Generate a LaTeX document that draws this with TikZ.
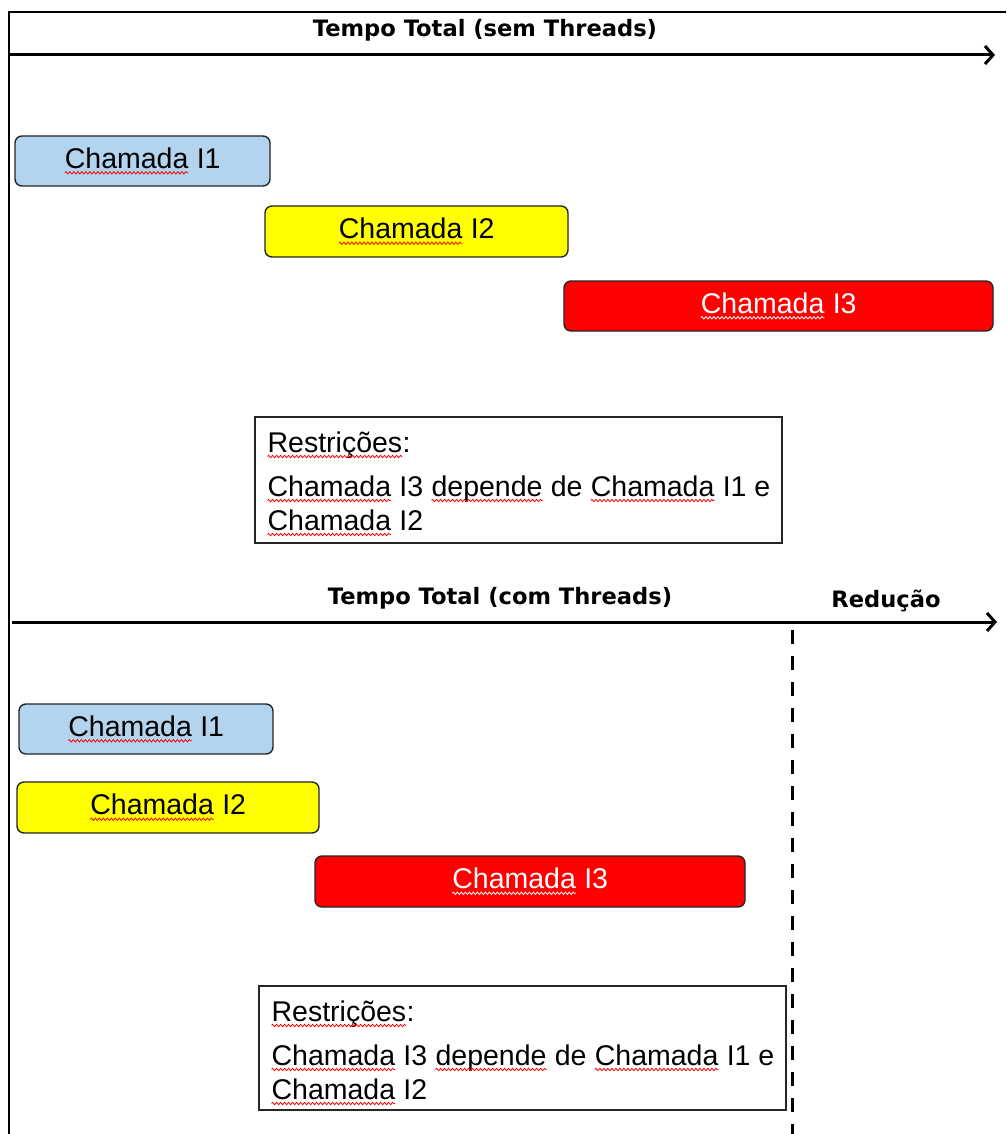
\documentclass[tikz,border=0pt]{standalone}
\usepackage{fontspec}
\setmainfont{Liberation Sans}
\newfontfamily\titlefont{DejaVu Sans}
\usetikzlibrary{arrows.meta,decorations.pathmorphing}
\definecolor{callblue}{RGB}{178,212,238}
\definecolor{callyellow}{RGB}{255,255,0}
\definecolor{callred}{RGB}{255,0,0}
\newcommand\squig[2][red]{\tikz[baseline=(sqw.base),sharp corners]{\node[shape=rectangle,anchor=base,inner sep=0pt,outer sep=0pt,minimum width=0pt,minimum height=0pt,text width=,align=center,draw=none,fill=none](sqw){#2};\draw[#1,line width=0.8pt,sharp corners,fill=none,decorate,decoration={zigzag,amplitude=1.2pt,segment length=4pt}] ([yshift=-4.5pt]sqw.base west) -- ([yshift=-4.5pt]sqw.base east);}}
\tikzset{
  callbox/.style={draw=black!85,line width=1.4pt,rounded corners=7pt,inner sep=0pt,font=\fontsize{28.5}{34}\selectfont},
  restrbox/.style={draw=black!85,line width=1.4pt,fill=white,inner sep=0pt},
  restrtext/.style={anchor=base west,inner sep=0pt,font=\fontsize{28.5}{34}\selectfont},
  titletext/.style={anchor=base,inner sep=0pt,font=\titlefont\bfseries\fontsize{22.6}{26}\selectfont},
  timearrow/.style={line width=3pt,-{Straight Barb[length=8pt,width=18pt]}},
  framebar/.style={line width=1.4pt,black},
  cutline/.style={line width=3pt,dash pattern=on 14pt off 12pt}
}
\begin{document}
\begin{tikzpicture}[x=1pt,y=-1pt]
\useasboundingbox[fill=white] (0,0) rectangle (1006,1134);
% frame
\coordinate (fbl) at (9,1134);
\coordinate (ftl) at (9,12);
\coordinate (ftr) at (1006,12);
\draw[framebar] (fbl) -- (ftl) -- (ftr);
% top timeline
\node[titletext] (t1) at (485,37) {Tempo Total (sem Threads)};
\coordinate (a1s) at (9,55);
\coordinate (a1e) at (995,55);
\draw[timearrow] (a1s) -- (a1e);
\node[callbox,fill=callblue,minimum width=255,minimum height=50] (c1) at (142.5,161) {\squig{Chamada} I1};
\node[callbox,fill=callyellow,minimum width=303,minimum height=51] (c2) at (416.5,231.5) {\squig{Chamada} I2};
\node[callbox,fill=callred,text=white,minimum width=429,minimum height=50] (c3) at (778.5,306) {\squig[white]{Chamada} I3};
\node[restrbox,minimum width=527,minimum height=126] (r1) at (518.5,480) {};
\node[restrtext] (r1a) at (267,452) {\squig{Restrições}:};
\node[restrtext] (r1b) at (267,496) {\squig{Chamada} I3 \squig{depende} de \squig{Chamada} I1 e};
\node[restrtext] (r1c) at (267,530) {\squig{Chamada} I2};
% bottom timeline
\node[titletext] (t2) at (500,604) {Tempo Total (com Threads)};
\node[titletext] (t3) at (886,607) {Redução};
\coordinate (a2s) at (12,622);
\coordinate (a2e) at (997,622);
\draw[timearrow] (a2s) -- (a2e);
\coordinate (d1) at (792,630);
\coordinate (d2) at (792,1134);
\draw[cutline] (d1) -- (d2);
\node[callbox,fill=callblue,minimum width=254,minimum height=50] (c4) at (146,729) {\squig{Chamada} I1};
\node[callbox,fill=callyellow,minimum width=302,minimum height=51] (c5) at (168,807.5) {\squig{Chamada} I2};
\node[callbox,fill=callred,text=white,minimum width=430,minimum height=51] (c6) at (530,881.5) {\squig[white]{Chamada} I3};
\node[restrbox,minimum width=527,minimum height=124] (r2) at (522.5,1048) {};
\node[restrtext] (r2a) at (271,1021) {\squig{Restrições}:};
\node[restrtext] (r2b) at (271,1065) {\squig{Chamada} I3 \squig{depende} de \squig{Chamada} I1 e};
\node[restrtext] (r2c) at (271,1099) {\squig{Chamada} I2};
\end{tikzpicture}
\end{document}
